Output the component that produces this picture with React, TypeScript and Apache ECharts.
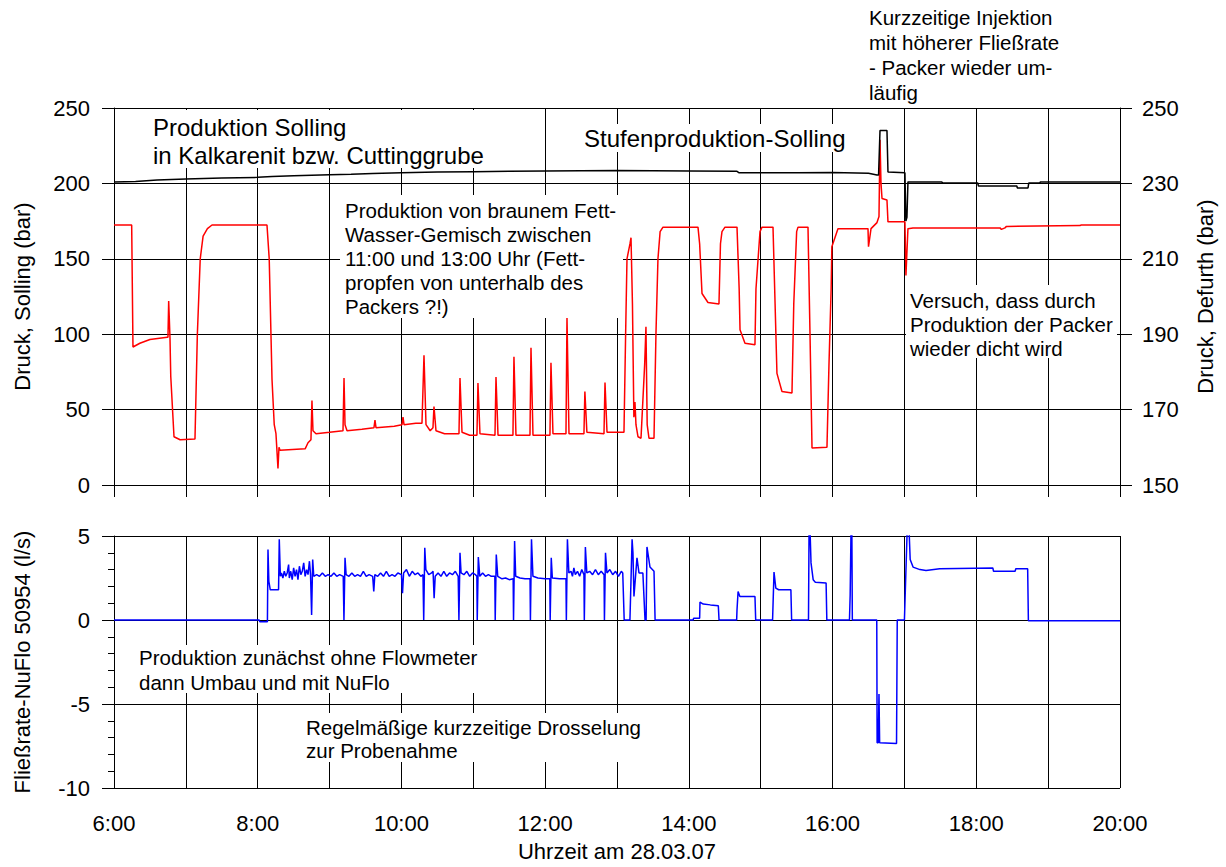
import React, { useEffect, useRef } from "react";
import * as echarts from "echarts";

// ---- Data (time in decimal hours) ----
const sollingTime = [
  6.0, 6.246, 6.264, 6.36, 6.5, 6.74, 6.751, 6.761, 6.779, 6.79, 6.835, 6.92, 7.127, 7.16, 7.2, 7.24, 7.3, 7.364,
  8.129, 8.16, 8.199, 8.23, 8.254, 8.282, 8.296, 8.31, 8.66, 8.7, 8.741, 8.755, 8.769, 8.811, 9.0, 9.187, 9.201,
  9.215, 9.243, 9.45, 9.618, 9.632, 9.646, 9.9, 10.008, 10.022, 10.036, 10.2, 10.286, 10.314, 10.342, 10.4, 10.439,
  10.453, 10.481, 10.6, 10.801, 10.815, 10.843, 10.95, 11.051, 11.065, 11.093, 11.302, 11.316, 11.344, 11.552,
  11.566, 11.594, 11.789, 11.803, 11.831, 12.067, 12.081, 12.109, 12.29, 12.304, 12.332, 12.54, 12.553, 12.581,
  12.819, 12.833, 12.861, 13.097, 13.12, 13.139, 13.181, 13.195, 13.215, 13.235, 13.25, 13.264, 13.292, 13.334,
  13.385, 13.403, 13.42, 13.445, 13.515, 13.542, 13.57, 13.6, 13.64, 14.127, 14.15, 14.183, 14.266, 14.419, 14.44,
  14.461, 14.503, 14.67, 14.7, 14.712, 14.781, 14.92, 14.934, 14.99, 15.018, 15.171, 15.2, 15.226, 15.296, 15.435,
  15.46, 15.5, 15.519, 15.658, 15.686, 15.714, 15.922, 15.95, 15.98, 15.99, 16.075, 16.493, 16.5, 16.535, 16.618,
  16.646, 16.66, 16.674, 16.688, 16.757, 16.771, 17.007, 17.021, 17.049, 17.119, 18.33, 18.35, 18.399, 18.42,
  19.443, 19.46, 20.0,
];
const sollingValue = [
  172.4, 172.4, 91.5, 94, 96.5, 98, 98, 122, 98, 72, 32, 30, 30.5, 100, 150, 165, 170, 172.4,
  172.4, 150, 70, 40, 34, 11, 25, 23, 24, 28, 30, 56, 36, 34, 35, 36, 71,
  40, 36, 37, 38, 43, 38, 39, 40, 45, 40, 41, 41, 86, 40, 36, 38,
  52, 36, 34, 34, 71, 35, 33, 33, 67.6, 34, 33, 71.6, 33, 33,
  85, 33, 33, 91, 33, 33, 81, 34, 34, 111, 34, 34, 62, 35,
  34, 68, 35, 35, 100, 150, 160, 164, 120, 45, 55, 40, 32, 31,
  80, 105, 40, 31, 31, 100, 150, 168, 171, 171, 160, 127, 121, 120, 160,
  168, 171, 171, 130, 103, 94, 93, 130, 168, 171, 171, 120, 74, 62, 61,
  120, 168, 171, 171, 100, 24.5, 25, 80, 130, 158, 170, 170, 158, 170, 174,
  178, 229, 200, 190, 189, 174.5, 174.5, 139, 170, 170.5, 170.5, 169.5, 170.5, 171.5,
  172, 172.4, 172.4,
];

const defurthTime = [
  6.0, 6.3, 6.6, 7.0, 7.5, 8.0, 8.2, 8.5, 9.0, 9.3, 9.6, 10.0, 10.5, 11.0, 11.5, 12.0, 13.0, 14.0, 14.67, 14.7,
  15.5, 16.0, 16.5, 16.618, 16.64, 16.66, 16.74, 16.757, 16.771, 17.007, 17.02, 17.035, 17.049, 17.52, 17.53,
  18.02, 18.03, 18.566, 18.57, 18.72, 18.73, 18.886, 18.89, 20.0,
];
const defurthValue = [
  230.4, 230.5, 230.9, 231.2, 231.4, 231.6, 231.8, 232.0, 232.3, 232.4, 232.6, 232.8, 233.0, 233.1, 233.2, 233.3,
  233.4, 233.3, 233.2, 232.8, 232.8, 232.9, 232.7, 232.2, 232.2, 244, 244, 244, 233, 232.8, 220, 221, 230.4, 230.4,
  230.1, 230.1, 229.3, 229.3, 228.8, 228.8, 230.1, 230.1, 230.4, 230.4,
];

const flowTime = [
  6.0, 8.02, 8.03, 8.135, 8.143, 8.155, 8.175, 8.29, 8.3, 8.315,
  8.33, 8.35, 8.37, 8.39, 8.41, 8.43, 8.44, 8.46, 8.48, 8.5, 8.52, 8.54, 8.56, 8.58, 8.6, 8.62, 8.64, 8.66, 8.68,
  8.7, 8.72, 8.735, 8.75, 8.765, 8.78, 8.82, 8.86, 8.9, 8.94, 8.98, 9.02, 9.06, 9.1, 9.14, 9.19, 9.2, 9.215, 9.23,
  9.27, 9.31, 9.35, 9.39, 9.43, 9.47, 9.51, 9.55, 9.6, 9.615, 9.63, 9.67, 9.71, 9.75, 9.79, 9.83, 9.87, 9.91, 9.95,
  10.0, 10.015, 10.03, 10.07, 10.11, 10.15, 10.19, 10.23, 10.27, 10.3, 10.31, 10.325, 10.34, 10.38, 10.42, 10.44,
  10.455, 10.47, 10.51, 10.55, 10.59, 10.63, 10.67, 10.71, 10.75, 10.79, 10.8, 10.815, 10.83, 10.87, 10.91, 10.95,
  10.99, 11.03, 11.05, 11.055, 11.07, 11.09, 11.13, 11.17, 11.21, 11.25, 11.3, 11.305, 11.32, 11.34, 11.4, 11.45,
  11.5, 11.555, 11.56, 11.575, 11.59, 11.65, 11.72, 11.79, 11.795, 11.81, 11.83, 11.9, 12.0, 12.065, 12.07, 12.085,
  12.1, 12.2, 12.29, 12.295, 12.31, 12.33, 12.36, 12.38, 12.4, 12.42, 12.45, 12.48, 12.51, 12.54, 12.545, 12.56,
  12.58, 12.62, 12.66, 12.7, 12.74, 12.78, 12.82, 12.825, 12.84, 12.86, 12.9, 12.94, 12.98, 13.02, 13.06, 13.08,
  13.1, 13.18, 13.21, 13.222, 13.236, 13.278, 13.306, 13.36, 13.39, 13.405, 13.417, 13.459, 13.515, 13.53, 14.06,
  14.065, 14.15, 14.155, 14.2, 14.3, 14.41, 14.42, 14.665, 14.67, 14.685, 14.71, 14.92, 14.93, 15.165, 15.185,
  15.21, 15.25, 15.42, 15.43, 15.665, 15.675, 15.7, 15.73, 15.76, 15.91, 15.92, 16.235, 16.245, 16.265, 16.275,
  16.615, 16.62, 16.635, 16.646, 16.655, 16.89, 16.9, 17.0, 17.05, 17.08, 17.12, 17.216, 17.3, 17.49, 18.23, 18.24,
  18.54, 18.55, 18.715, 18.725, 20.0,
];
const flowValue = [
  0, 0, -0.1, -0.1, 4.2, 2.3, 1.8, 1.8, 4.8, 2.6,
  2.8, 2.5, 2.9, 2.6, 2.8, 3.3, 2.5, 2.9, 2.4, 3.1, 2.6, 3.0, 2.4, 3.2, 2.7, 2.9, 3.4, 2.6, 3.0,
  2.7, 3.5, 2.7, 0.3, 3.6, 2.6, 2.7, 2.6, 2.8, 2.6, 2.7, 2.6, 2.8, 2.6, 2.7, 2.6, 0, 3.7, 2.7,
  2.6, 2.8, 2.6, 2.7, 2.6, 2.9, 2.6, 2.7, 2.6, 1.7, 2.7, 2.6, 2.8, 2.6, 2.9, 2.6, 2.7, 2.6, 2.8,
  2.7, 1.6, 2.8, 3.0, 2.6, 2.9, 2.7, 2.8, 2.6, 2.7, 0, 4.3, 3.0, 2.7, 2.8, 2.9,
  1.3, 2.6, 2.8, 2.6, 2.9, 2.6, 2.8, 2.7, 2.9, 2.6, 0, 4.0, 2.8, 2.7, 2.9, 2.6,
  2.8, 2.7, 2.6, 0, 3.75, 2.6, 2.8, 2.6, 2.7, 2.6, 2.6, 0, 3.9, 2.6, 2.45, 2.5,
  2.4, 2.45, 0, 4.7, 2.6, 2.5, 2.45, 2.45, 0, 4.8, 2.6, 2.5, 2.45, 2.45, 0, 3.7,
  2.5, 2.45, 2.45, 0, 4.8, 2.8, 2.9, 2.6, 3.1, 2.7, 2.9, 2.6, 3.0, 2.7, 0, 4.35,
  2.8, 2.9, 2.7, 3.0, 2.7, 2.9, 2.7, 0, 4.0, 2.8, 3.0, 2.7, 2.9, 2.6, 2.9, 2.8,
  0, 0, 4.8, 4.0, 1.4, 3.7, 2.8, 2.8, 0, 0, 4.35, 3.15, 2.9, 0, 0,
  0.1, 0.1, 1.07, 0.95, 0.9, 0.85, 0, 0, 0.6, 1.7, 1.4, 1.4, 0, 0, 2.85,
  1.9, 1.8, 1.8, 0, 0, 7, 3.4, 2.4, 2.25, 2.2, 0, 0, 1.5, 8, 0,
  0, -7.3, -7.3, -4.4, -7.3, -7.35, 0, 0, 7, 3.6, 3.15, 3.0, 2.95, 3.05, 3.1, 2.9,
  2.9, 3.05, 3.05, -0.05, -0.05,
];

const xTickLabels = ["6:00", "8:00", "10:00", "12:00", "14:00", "16:00", "18:00", "20:00"];

const FONT = "Liberation Sans, Arial, sans-serif";

const zip = (t: number[], v: number[]) => t.map((x, i) => [x, v[i]]);

export default function App() {
  const ref = useRef<HTMLDivElement>(null);

  useEffect(() => {
    if (!ref.current) return;
    const chart = echarts.init(ref.current, undefined, { renderer: "svg" });

    const tickLabel = { color: "#000", fontFamily: FONT, fontSize: 22 };
    const axisLine = { show: true, lineStyle: { color: "#000", width: 1 } };
    const split = { show: true, lineStyle: { color: "#000", width: 1 } };
    const nameStyle = { color: "#000", fontFamily: FONT, fontSize: 22 };

    const xLabelFmt = (v: number) => {
      const s = `${v}:00`;
      return xTickLabels.indexOf(s) >= 0 ? s : "";
    };

    const textEl = (x: number, y: number, text: string, fontSize: number, lineHeight: number) => ({
      type: "text",
      x,
      y,
      z: 101,
      style: {
        text,
        fill: "#000",
        font: `${fontSize}px ${FONT}`,
        lineHeight,
        textVerticalAlign: "top",
        verticalAlign: "top",
      },
    });
    const boxEl = (x: number, y: number, w: number, h: number) => ({
      type: "rect",
      z: 100,
      shape: { x, y, width: w, height: h },
      style: { fill: "#fff" },
    });

    chart.setOption({
      animation: false,
      backgroundColor: "#fff",
      grid: [
        { left: 114, top: 108, width: 1006, height: 377 },
        { left: 114, top: 536, width: 1006, height: 252 },
      ],
      xAxis: [
        {
          type: "value",
          gridIndex: 0,
          min: 6,
          max: 20,
          interval: 1,
          axisLine,
          axisTick: { show: true, length: 12, lineStyle: { color: "#000" } },
          axisLabel: { show: false },
          splitLine: split,
        },
        {
          type: "value",
          gridIndex: 1,
          min: 6,
          max: 20,
          interval: 1,
          axisLine,
          axisTick: { show: true, length: 12, lineStyle: { color: "#000" } },
          axisLabel: { ...tickLabel, margin: 24, formatter: xLabelFmt },
          splitLine: split,
          name: "Uhrzeit am 28.03.07",
          nameLocation: "middle",
          nameGap: 52,
          nameTextStyle: nameStyle,
        },
      ],
      yAxis: [
        {
          type: "value",
          gridIndex: 0,
          position: "left",
          min: 0,
          max: 250,
          interval: 50,
          axisLine,
          axisTick: { show: true, length: 12, lineStyle: { color: "#000" } },
          axisLabel: { ...tickLabel, margin: 24 },
          splitLine: split,
          name: "Druck, Solling (bar)",
          nameLocation: "middle",
          nameGap: 81,
          nameTextStyle: nameStyle,
        },
        {
          type: "value",
          gridIndex: 0,
          position: "right",
          min: 150,
          max: 250,
          interval: 20,
          axisLine,
          axisTick: { show: true, length: 12, lineStyle: { color: "#000" } },
          axisLabel: { ...tickLabel, margin: 22 },
          splitLine: { show: false },
          name: "Druck, Defurth (bar)",
          nameLocation: "middle",
          nameGap: 74,
          nameTextStyle: nameStyle,
        },
        {
          type: "value",
          gridIndex: 1,
          position: "left",
          min: -10,
          max: 5,
          interval: 5,
          axisLine,
          axisTick: { show: true, length: 12, lineStyle: { color: "#000" } },
          minorTick: { show: true, splitNumber: 5, length: 6, lineStyle: { color: "#000" } },
          axisLabel: { ...tickLabel, margin: 24 },
          splitLine: split,
          name: "Fließrate-NuFlo 50954 (l/s)",
          nameLocation: "middle",
          nameGap: 81,
          nameTextStyle: nameStyle,
        },
      ],
      series: [
        {
          type: "line",
          name: "Druck Solling",
          xAxisIndex: 0,
          yAxisIndex: 0,
          data: zip(sollingTime, sollingValue),
          showSymbol: false,
          lineStyle: { color: "#ff0000", width: 1.5 },
          z: 3,
        },
        {
          type: "line",
          name: "Druck Defurth",
          xAxisIndex: 0,
          yAxisIndex: 1,
          data: zip(defurthTime, defurthValue),
          showSymbol: false,
          lineStyle: { color: "#000000", width: 1.5 },
          z: 4,
        },
        {
          type: "line",
          name: "Fließrate",
          xAxisIndex: 1,
          yAxisIndex: 2,
          data: zip(flowTime, flowValue),
          showSymbol: false,
          lineStyle: { color: "#0000ff", width: 1.5 },
          z: 3,
        },
      ],
      graphic: [
        boxEl(150, 110, 344, 58),
        boxEl(582, 124, 270, 28),
        boxEl(340, 195, 283, 123),
        boxEl(906, 285, 211, 73),
        boxEl(135, 645, 355, 48),
        boxEl(302, 713, 320, 49),
        textEl(153, 113, "Produktion Solling\nin Kalkarenit bzw. Cuttinggrube", 24, 28),
        textEl(584, 124, "Stufenproduktion-Solling", 24, 28),
        textEl(
          345,
          198,
          "Produktion von braunem Fett-\nWasser-Gemisch zwischen\n11:00 und 13:00 Uhr (Fett-\npropfen von unterhalb des\nPackers ?!)",
          20.5,
          24
        ),
        textEl(869, 5, "Kurzzeitige Injektion\nmit höherer Fließrate\n- Packer wieder um-\nläufig", 20.5, 25),
        textEl(910, 288, "Versuch, dass durch\nProduktion der Packer\nwieder dicht wird", 20.5, 24),
        textEl(139, 645, "Produktion zunächst ohne Flowmeter\ndann Umbau und mit NuFlo", 20.5, 25),
        textEl(306, 716, "Regelmäßige kurzzeitige Drosselung\nzur Probenahme", 20.5, 23),
      ],
    });

    return () => chart.dispose();
  }, []);

  return (
    <div
      ref={ref}
      style={{ position: "fixed", left: 0, top: 0, width: 1226, height: 867, background: "#fff" }}
    />
  );
}
